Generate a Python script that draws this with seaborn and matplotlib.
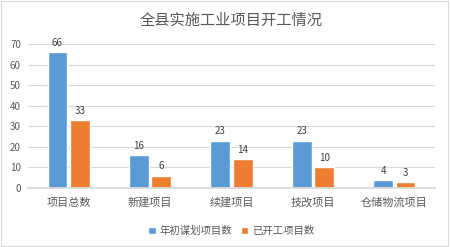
import matplotlib
matplotlib.use("Agg")
import matplotlib.pyplot as plt
import seaborn as sns
import pandas as pd

categories = ["项目总数", "新建项目", "续建项目", "技改项目", "仓储物流项目"]
planned = [66, 16, 23, 23, 4]
started = [33, 6, 14, 10, 3]
series_names = ["年初谋划项目数", "已开工项目数"]
title = "全县实施工业项目开工情况"

df = pd.DataFrame({
    "cat": categories * 2,
    "val": planned + started,
    "series": [series_names[0]] * 5 + [series_names[1]] * 5,
})

sns.set_theme(style="white")
plt.rcParams['font.family'] = ['Noto Sans CJK SC', 'DejaVu Sans']

fig = plt.figure(figsize=(4.5, 2.47), dpi=100)
ax = fig.add_axes([0.062, 0.239, 0.905, 0.583])
palette = {series_names[0]: "#5B9BD5", series_names[1]: "#ED7D31"}
sns.barplot(data=df, x="cat", y="val", hue="series", palette=palette,
            width=0.55, gap=0.12, ax=ax, legend=True, saturation=1)

for cont in ax.containers:
    ax.bar_label(cont, fontsize=7, color="#404040", padding=3)

ax.set_ylim(0, 70)
ax.set_yticks(range(0, 71, 10))
ax.grid(axis="y", color="#D9D9D9", linewidth=0.8)
ax.set_axisbelow(True)
for s in ["top", "right", "left"]:
    ax.spines[s].set_visible(False)
ax.spines["bottom"].set_color("#D9D9D9")
ax.set_xlabel("")
ax.set_ylabel("")
ax.tick_params(axis="y", labelsize=7, colors="#595959", length=0, pad=5)
ax.tick_params(axis="x", labelsize=8, colors="#595959", length=0, pad=7)
ax.set_title(title, fontsize=11, color="#595959", pad=14)

ax.legend(loc="upper center", bbox_to_anchor=(0.5, -0.2), ncol=2, frameon=False,
          fontsize=7.5, handlelength=0.7, handleheight=0.7, columnspacing=0.8,
          handletextpad=0.4, labelcolor="#595959")

fig.patches.append(plt.Rectangle((0.002, 0.004), 0.994, 0.99, transform=fig.transFigure,
                                 fill=False, edgecolor="#D9D9D9", linewidth=0.8))
fig.savefig("out.png", dpi=100)
